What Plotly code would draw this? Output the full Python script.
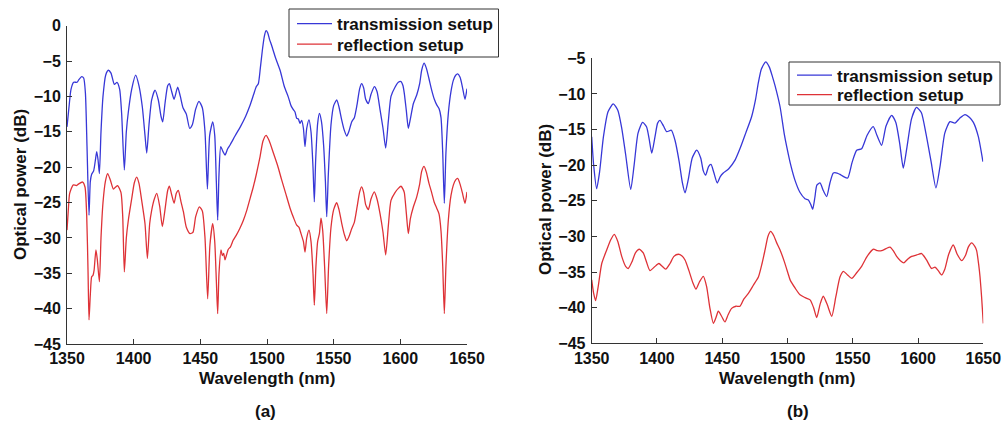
import plotly.graph_objects as go

# ---- (a) spectra -------------------------------------------------------
wl_a_trans = [1350, 1351.5, 1353, 1355, 1357.5, 1359, 1361, 1362.5, 1363.8, 1365, 1366.5, 1367.5, 1368.5, 1370,
              1371.3, 1372.3, 1373.3, 1374.3, 1375.5, 1377, 1379, 1381, 1383, 1385.5, 1387.5, 1389.5, 1391, 1393,
              1394.5, 1396, 1398.5, 1401.5, 1404, 1406.5, 1408.5, 1409.8, 1411.5, 1413.5, 1416, 1418.5, 1420.5,
              1421.8, 1423.5, 1425.5, 1426.8, 1428.5, 1430.3, 1433, 1435, 1437, 1439.5, 1442, 1444, 1446.5, 1449,
              1451.5, 1453.5, 1455.3, 1457, 1459.3, 1460.8, 1462, 1463, 1464, 1465.3, 1467, 1468.5, 1470.5, 1472.5,
              1476, 1480, 1484, 1487, 1490, 1492, 1493.5, 1495, 1496.5, 1498, 1499.3, 1500.5, 1502, 1503.5, 1506.5,
              1509.8, 1513, 1516, 1518, 1519.5, 1521, 1522.3, 1523.5, 1524.8, 1526, 1527.3, 1528.5, 1529.8, 1531.5,
              1533, 1534.5, 1535.5, 1536.5, 1538, 1539.3, 1540.8, 1542.5, 1543.8, 1544.8, 1546, 1548, 1550, 1552.3,
              1554, 1556, 1558, 1559.8, 1561.5, 1563.5, 1565.5, 1567.5, 1569.5, 1571, 1572.5, 1574, 1576, 1578,
              1580.5, 1582.5, 1584.8, 1587, 1589, 1591, 1593, 1596, 1598.5, 1600.5, 1602, 1603, 1604.5, 1606, 1607.5,
              1609.8, 1612.3, 1614.5, 1616, 1617.8, 1619.5, 1621.5, 1623.5, 1625.5, 1627.3, 1629, 1630.5, 1631.8,
              1633, 1634.2, 1636, 1638, 1639.8, 1641.5, 1643, 1644.8, 1646.5, 1648.5, 1650]
db_a_trans = [-14.3, -11.5, -9, -8, -8, -7.6, -7.2, -7.4, -9.5, -17, -26.8, -22, -21, -20.5,
              -19, -17.8, -19, -20.9, -15, -10, -7, -6.3, -6.7, -8.3, -8.0, -9, -12.5, -20.4,
              -15, -12.2, -9, -7.0, -8.5, -11.5, -15.5, -18.0, -14, -10.5, -9.1, -10.5, -12.8,
              -13.6, -11, -8.5, -8.2, -9.3, -10.4, -8.7, -10, -11.6, -12.5, -14.5, -14, -11.8, -10.7,
              -11.6, -15, -23.1, -15.5, -13.6, -15.5, -22, -27.5, -21, -17.1, -17.8, -18.3, -17.4, -16.8,
              -15.6, -14.3, -12.8, -11.4, -9.7, -8.6, -8.2, -6, -3.5, -1.5, -0.7, -1.0, -2.0, -2.8, -4.6,
              -6.3, -8.6, -10.1, -11.3, -11.8, -12.2, -13.1, -13.2, -13.8, -13.4, -14.5, -17.1, -14.5, -13.3,
              -15, -20, -24.9, -19, -13.8, -12.4, -13.5, -17, -22, -27, -21, -14, -11.3, -10.5,
              -11.5, -13.3, -14.8, -15.6, -14.9, -13.6, -13.0, -11.2, -8.9, -8.2, -8.8, -10.4, -11.0, -9.7,
              -8.6, -9.3, -11.9, -14.5, -17.3, -13.5, -10, -8.7, -8.0, -7.9, -8.5, -9.6, -12, -14.5, -13.2,
              -11, -9.8, -8.2, -6.3, -5.3, -6, -7.5, -9.1, -10.4, -11.2, -11.7, -13, -18,
              -25.1, -18, -12.4, -9.3, -7.7, -7.0, -6.8, -7.3, -8.6, -10.4, -8.9]

wl_a_refl = [1350, 1351, 1352, 1354.7, 1357, 1358.5, 1361.7, 1363.5, 1364.8, 1365.8, 1366.5, 1367.5, 1368.5,
             1369.5, 1370.3, 1371.7, 1372.7, 1374.3, 1375.5, 1377, 1378.8, 1380.5, 1382.5, 1384.8, 1386.5, 1388,
             1390.5, 1391.8, 1393, 1394.5, 1396, 1398.5, 1400.5, 1402.3, 1404, 1406, 1408.5, 1410.3, 1412, 1413.5,
             1415.5, 1417.3, 1419.5, 1421.5, 1423.5, 1425.5, 1426.8, 1428.5, 1430.3, 1432, 1433.5, 1435.5, 1437.3,
             1439.5, 1442.3, 1444.5, 1446.5, 1449.3, 1451.5, 1453.5, 1455.5, 1457.2, 1459.3, 1460.8, 1462, 1463,
             1464, 1465.5, 1466.5, 1467.5, 1468.5, 1469.5, 1471, 1472.5, 1474.7, 1477, 1479.5, 1482.3, 1485,
             1487.5, 1489.7, 1492, 1494.8, 1497, 1499.3, 1501.5, 1504.8, 1508, 1511, 1514, 1517.3, 1520, 1522.3,
             1524, 1525.5, 1527.3, 1528.5, 1529.8, 1531.5, 1533, 1534.5, 1535.5, 1536.7, 1538, 1539.3, 1540.5,
             1541.8, 1543.2, 1544.8, 1546.2, 1548, 1550, 1552.3, 1554, 1556, 1558, 1559.8, 1561.5, 1563.5, 1565.5,
             1567.5, 1569.5, 1571, 1572.5, 1574, 1576, 1578, 1580.5, 1582.5, 1584.8, 1587, 1589, 1591, 1593, 1596,
             1598.5, 1600.5, 1602, 1603, 1604.5, 1606, 1607.5, 1609.8, 1612.3, 1614.5, 1616, 1617.8, 1619.5,
             1621.5, 1623.5, 1625.5, 1627.3, 1629, 1630.5, 1631.8, 1633, 1634.2, 1636, 1638, 1639.8, 1641.5, 1643,
             1644.8, 1646.5, 1648.5, 1650]
db_a_refl = [-28.9, -26, -23.7, -22.5, -22.6, -22.4, -22.1, -22.8, -27, -35, -41.6, -38, -35.5,
             -35.3, -34.6, -31.7, -33, -36.2, -30, -25, -22, -20.9, -21.8, -23.1, -22.8, -22.6,
             -23.6, -27, -34.8, -30, -27.5, -24.5, -22.2, -21.4, -22.3, -24.7, -28, -32.9, -28, -26.1,
             -24.5, -23.7, -25.5, -28.4, -26, -23.3, -22.7, -23.9, -25.1, -23.7, -23.3, -24.9, -26.3,
             -28.5, -29.4, -29.2, -27, -25.6, -26.2, -30, -38.6, -31, -28, -30.5, -36, -40.7,
             -35, -31.7, -32.5, -32.2, -33.1, -32.5, -31.6, -31.3, -30.3, -29.6, -28.7, -27.5, -26,
             -24.3, -22.8, -21.0, -18.5, -16.3, -15.5, -16.2, -18, -19.8, -21.8, -23.7, -25.8, -27.2, -28.2,
             -28.5, -29.4, -30.5, -32, -30, -28.9, -30.5, -35, -39.5, -34, -30.5, -29.4, -27.2,
             -29, -34, -40.7, -34, -28.5, -26, -25.0, -26, -27.9, -29.5, -30.4, -29.8, -28.7, -27.8,
             -25.7, -23.5, -22.8, -23.6, -25.3, -26, -24.5, -23.5, -24.5, -26.6, -29.2, -32.4, -28.3, -24.7, -23.6,
             -23, -22.7, -23.1, -23.6, -26.5, -29.4, -27.3, -25.6, -24.2, -22.4, -20.6, -19.9, -20.7,
             -22.3, -23.6, -25, -25.8, -26.6, -29, -34, -40.7, -34, -27.5, -24, -22.5, -21.8, -21.6,
             -22.4, -23.6, -25.1, -23.5]

# ---- (b) spectra -------------------------------------------------------
wl_b_trans = [1350, 1351.5, 1353.8, 1356, 1359, 1362.5, 1366.5, 1370, 1373, 1376, 1379.9, 1382.5, 1385.5, 1389,
              1392, 1394, 1396, 1398.5, 1400.5, 1402.3, 1405, 1407.5, 1411, 1413.8, 1417, 1419.5, 1421.5, 1424,
              1427, 1430.4, 1433.5, 1435.5, 1437.3, 1439.5, 1441.4, 1443.5, 1446.2, 1448.5, 1450.8, 1455, 1459.8,
              1464, 1468, 1472.5, 1475.5, 1477.6, 1480, 1483.3, 1486, 1488.5, 1490.4, 1494.3, 1497.5, 1499.4,
              1502.5, 1505.7, 1509.5, 1513.4, 1516, 1517.8, 1519.3, 1521, 1522.5, 1524.9, 1527.5, 1530, 1532.5,
              1535.1, 1538, 1540.2, 1543, 1546.1, 1549.5, 1553, 1556.8, 1561, 1565.7, 1568.5, 1572.1, 1575.5,
              1579.8, 1583, 1586, 1588.7, 1591.5, 1595, 1598.8, 1602.5, 1606, 1610, 1613.7, 1617, 1620.5, 1624.5,
              1628.3, 1632, 1636, 1639.5, 1642.4, 1646.2, 1649.7]
db_b_trans = [-16.0, -20, -23.3, -21, -16, -12.5, -11.4, -12.3, -14.8, -18.5, -23.4, -20, -15.5, -14.0,
              -14.6, -16.3, -18.3, -16, -14.1, -13.7, -14.5, -15.3, -15.1, -16.5, -19.5, -22.5, -23.9, -22,
              -19, -17.9, -19, -20.8, -21.4, -20.2, -19.9, -21, -22.5, -21.6, -21.1, -20.5, -19.3,
              -17.5, -15.5, -13.2, -10.8, -8.5, -6.5, -5.5, -6.2, -7.6, -8.8, -11.8, -15.6, -17.4,
              -20, -22.1, -23.8, -24.7, -24.9, -25.5, -26.2, -24.5, -22.8, -22.5, -23.6, -24.4, -22.5,
              -21.1, -21.1, -21.3, -21.6, -21.8, -19.6, -17.9, -17.7, -15.8, -14.6, -15.8, -17.2, -14.5,
              -13.0, -14, -17, -20.4, -17.5, -13.5, -11.9, -12.6, -15.5, -19.5, -23.2, -20, -15.5, -13.9,
              -14.1, -13.4, -12.9, -13.3, -14, -16, -19.5]

wl_b_refl = [1350, 1351.5, 1353, 1355, 1357.7, 1361.5, 1364.5, 1367.3, 1370, 1373, 1376, 1378, 1381, 1383.5,
             1386.5, 1389.5, 1392, 1394.6, 1398, 1401.5, 1404, 1406.7, 1410, 1413, 1416.4, 1419, 1421.5, 1424.5,
             1427.5, 1429.9, 1432.5, 1435.5, 1438, 1440.5, 1443.2, 1445, 1447, 1449.5, 1452.1, 1454.5, 1457.2,
             1460.5, 1463.6, 1466.5, 1470, 1474, 1477.7, 1480.5, 1482.8, 1485, 1487.1, 1489.5, 1491.5, 1494.3,
             1497.5, 1500.6, 1502, 1506, 1509.6, 1513.5, 1517.3, 1520, 1522.4, 1525, 1527.4, 1530.5, 1533.9, 1537,
             1540.2, 1542.8, 1546, 1549.2, 1553, 1556.8, 1561, 1565.7, 1569, 1572.1, 1575.5, 1578.5, 1581, 1583.6,
             1586.5, 1589.2, 1592, 1595.1, 1599, 1602.8, 1606.5, 1610.4, 1613, 1615.5, 1618.1, 1620.5, 1623.5, 1627,
             1630, 1633.4, 1636.5, 1638.5, 1641.1, 1643.5, 1644.9, 1646.5, 1647.5, 1648.7, 1650]
db_b_refl = [-36.1, -38, -39, -37, -33.8, -31.9, -30.5, -29.7, -30.7, -32.8, -34.2, -34.5, -33.5, -32.3,
             -31.8, -32.3, -33.6, -34.8, -34.3, -33.8, -34.2, -34.6, -33.8, -32.8, -32.5, -32.7, -33.3, -34.8,
             -36.5, -37.4, -36.4, -35.6, -37, -40, -42.2, -41.5, -40.5, -41.2, -42, -41, -40.1,
             -39.8, -39.8, -38.8, -38, -36.8, -35.7, -33.8, -31.9, -30, -29.3, -29.9, -30.8, -31.9,
             -33.5, -35.3, -36.1, -37.3, -38.2, -38.6, -38.9, -40, -41.4, -39.5, -38.4, -39.6, -41.2, -38.5,
             -35.7, -34.9, -35.4, -35.9, -35.1, -34.2, -32.8, -31.8, -32.0, -32.0, -31.7, -31.5, -32, -32.8,
             -33.4, -33.7, -33.2, -32.8, -32.6, -32.4, -33.3, -34.5, -34.3, -34.8, -35.4, -34.6, -32.5, -31.2,
             -32.5, -33.4, -32.6, -31.5, -30.9, -31.4, -32, -34, -35.7, -38.5, -42.2]

x_ticks = [1350, 1400, 1450, 1500, 1550, 1600, 1650]
series_names = ["transmission setup", "reflection setup"]
panel_labels = ["(a)", "(b)"]

BLUE = "rgb(55,55,215)"
RED = "rgb(222,50,55)"
FONT = "Liberation Sans, Arial, Helvetica, sans-serif"
W, H = 1003, 423


def px_x(p):
    return p / W


def px_y(p):
    return 1 - p / H


fig = go.Figure()

# one legend per entry so each row can be placed inside its framed key box
line_kw = dict(shape="spline", smoothing=0.6, width=1.3)
traces = [
    (wl_a_trans, db_a_trans, series_names[0], BLUE, "x", "y", "legend"),
    (wl_a_refl, db_a_refl, series_names[1], RED, "x", "y", "legend2"),
    (wl_b_trans, db_b_trans, series_names[0], BLUE, "x2", "y2", "legend3"),
    (wl_b_refl, db_b_refl, series_names[1], RED, "x2", "y2", "legend4"),
]
for xs, ys, name, color, xa, ya, lg in traces:
    fig.add_trace(go.Scatter(x=xs, y=ys, mode="lines", name=name,
                             line=dict(color=color, **line_kw),
                             xaxis=xa, yaxis=ya, legend=lg))

tick_font = dict(family=FONT, size=16, color="#111", weight="bold")
axis_common = dict(showline=True, linecolor="#333", linewidth=1, ticks="inside", ticklen=5,
                   tickcolor="#333", showgrid=False, zeroline=False, tickfont=tick_font,
                   mirror=False, automargin=False)
x_common = dict(ticklabelstandoff=0, **axis_common)
y_common = dict(ticklabelstandoff=2, **axis_common)

legend_common = dict(xanchor="left", yanchor="middle", bgcolor="rgba(0,0,0,0)",
                     borderwidth=0, font=dict(family=FONT, size=17, color="#111", weight="bold"),
                     tracegroupgap=0, itemwidth=35)

fig.update_layout(
    width=W, height=H,
    margin=dict(l=0, r=0, t=0, b=0, autoexpand=False),
    paper_bgcolor="white", plot_bgcolor="white",
    xaxis=dict(domain=[px_x(67), px_x(467)], range=[1350, 1650], tickvals=x_ticks,
               anchor="y", **x_common),
    yaxis=dict(domain=[px_y(344), px_y(25.7)], range=[-45, 0], dtick=5, anchor="x",
               **y_common),
    xaxis2=dict(domain=[px_x(591.7), px_x(983.3)], range=[1350, 1650], tickvals=x_ticks,
                anchor="y2", **x_common),
    yaxis2=dict(domain=[px_y(343.3), px_y(58.3)], range=[-45, -5], dtick=5, anchor="x2",
                **y_common),
    legend=dict(x=px_x(292), y=px_y(24), **legend_common),
    legend2=dict(x=px_x(292), y=px_y(44.5), **legend_common),
    legend3=dict(x=px_x(792), y=px_y(75.5), **legend_common),
    legend4=dict(x=px_x(792), y=px_y(95), **legend_common),
    showlegend=True,
)

# framed key boxes
for x0, x1, y0, y1 in [(289, 498.5, 9, 57), (789, 1000, 62, 105)]:
    fig.add_shape(type="rect", xref="paper", yref="paper", layer="above",
                  x0=px_x(x0), x1=px_x(x1), y0=px_y(y1), y1=px_y(y0),
                  line=dict(color="#333", width=1), fillcolor="white")

title_font = dict(family=FONT, size=17, color="#111", weight="bold")
annotations = [
    dict(text="Wavelength (nm)", x=px_x(267), y=px_y(378)),
    dict(text="Wavelength (nm)", x=px_x(787), y=px_y(378)),
    dict(text="Optical power (dB)", x=px_x(20), y=px_y(185), textangle=-90),
    dict(text="Optical power (dB)", x=px_x(545), y=px_y(200), textangle=-90),
    dict(text=panel_labels[0], x=px_x(265), y=px_y(411)),
    dict(text=panel_labels[1], x=px_x(798), y=px_y(411)),
]
for a in annotations:
    fig.add_annotation(xref="paper", yref="paper", showarrow=False, font=title_font,
                       xanchor="center", yanchor="middle", **a)

fig.write_html("out.html")
